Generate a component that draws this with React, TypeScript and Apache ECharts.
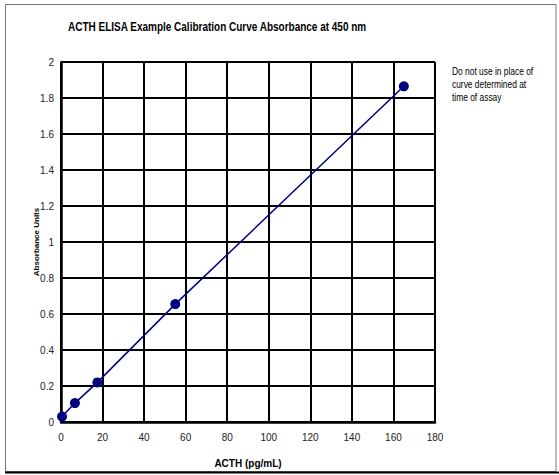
import React, { useEffect, useRef } from "react";
import * as echarts from "echarts";

const concentrations = [0.5, 6.7, 17.5, 55, 165];
const absorbances = [0.03, 0.105, 0.22, 0.655, 1.865];
const titleText = "ACTH ELISA Example Calibration Curve Absorbance at 450 nm";
const xAxisName = "ACTH (pg/mL)";
const yAxisName = "Absorbance Units";
const noteLines = ["Do not use in place of", "curve determined at", "time of assay"];

export default function App() {
  const ref = useRef<HTMLDivElement>(null);
  useEffect(() => {
    if (!ref.current) return;
    const chart = echarts.init(ref.current, null, { renderer: "svg" });
    const font = "'Liberation Sans', Arial, sans-serif";
    chart.setOption({
      animation: false,
      backgroundColor: "#fff",
      grid: { left: 61, top: 62, right: 124, bottom: 53, containLabel: false },
      xAxis: {
        type: "value",
        min: 0,
        max: 180,
        interval: 20,
        name: xAxisName,
        nameLocation: "middle",
        nameGap: 36,
        nameTextStyle: { fontFamily: font, fontSize: 10, fontWeight: "bold", color: "#000" },
        axisLine: { show: true, lineStyle: { color: "#000", width: 2.5 } },
        axisTick: { show: false },
        axisLabel: { fontFamily: font, fontSize: 10, color: "#222", margin: 10 },
        splitLine: { show: true, lineStyle: { color: "#000", width: 2 } },
      },
      yAxis: {
        type: "value",
        min: 0,
        max: 2,
        interval: 0.2,
        axisLine: { show: true, lineStyle: { color: "#000", width: 2.5 } },
        axisTick: { show: false },
        axisLabel: {
          fontFamily: font,
          fontSize: 10,
          color: "#222",
          margin: 7,
          formatter: (v: number) => String(Math.round(v * 10) / 10),
        },
        splitLine: { show: true, lineStyle: { color: "#000", width: 2 } },
      },
      series: [
        {
          type: "line",
          data: concentrations.map((c, i) => [c, absorbances[i]]),
          symbol: "circle",
          symbolSize: 10,
          lineStyle: { color: "#000080", width: 1.5 },
          itemStyle: { color: "#000080" },
          z: 5,
        },
      ],
      graphic: [
        {
          type: "rect",
          shape: { x: 5.5, y: 4.5, width: 550.5, height: 467 },
          style: { fill: "none", stroke: "#777", lineWidth: 1 },
          silent: true,
        },
        {
          type: "line",
          shape: { x1: 5, y1: 472.5, x2: 559, y2: 472.5 },
          style: { stroke: "#000", lineWidth: 2 },
          silent: true,
        },
        {
          type: "text",
          x: 68,
          y: 27,
          scaleX: 0.8,
          style: {
            text: titleText,
            fontFamily: font,
            fontSize: 12.5,
            fontWeight: "bold",
            fill: "#000",
            align: "left",
            verticalAlign: "middle",
          },
        },
        {
          type: "text",
          x: 36,
          y: 242,
          rotation: Math.PI / 2,
          style: {
            text: yAxisName,
            fontFamily: font,
            fontSize: 8,
            fontWeight: "bold",
            fill: "#000",
            align: "center",
            verticalAlign: "middle",
          },
        },
        {
          type: "text",
          x: 452,
          y: 65,
          scaleX: 0.8,
          style: {
            text: noteLines.join("\n"),
            fontFamily: font,
            fontSize: 10.5,
            lineHeight: 13,
            fill: "#000",
            align: "left",
            verticalAlign: "top",
          },
        },
      ],
    });
    return () => chart.dispose();
  }, []);
  return (
    <div
      ref={ref}
      style={{ position: "fixed", left: 0, top: 0, width: 559, height: 475 }}
    />
  );
}
